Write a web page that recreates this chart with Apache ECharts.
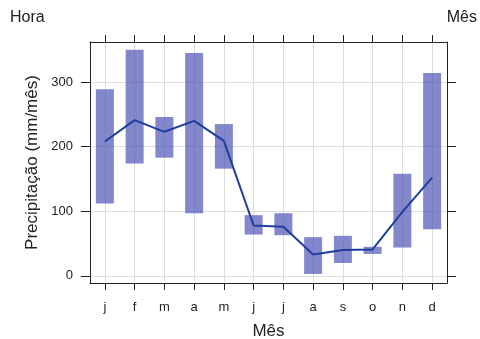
<!DOCTYPE html>
<html>
<head>
<meta charset="utf-8">
<script src="https://cdn.jsdelivr.net/npm/echarts@6/dist/echarts.min.js"></script>
<style>
  html, body { margin: 0; padding: 0; background: #fff; }
  #chart { width: 480px; height: 339px; }
</style>
</head>
<body>
<div id="chart"></div>
<script>
// meses e valores
const months = ['j', 'f', 'm', 'a', 'm', 'j', 'j', 'a', 's', 'o', 'n', 'd']
const lowVals = [112, 174, 183, 97, 166, 64, 63, 3, 20, 34, 44, 72]
const highVals = [289, 350, 246, 345, 235, 94, 97, 60, 62, 45, 158, 314]
const meanVals = [208, 241, 223, 240, 209, 78, 76, 33, 40, 41, 99, 152]
const yTicks = [0, 100, 200, 300]
const monthIdx = months.map((m, i) => i)

const font = 'Liberation Sans, Arial, sans-serif'
const frameColor = '#222'

const chart = echarts.init(document.getElementById('chart'))

chart.setOption({
  animation: false,
  textStyle: { fontFamily: font },
  grid: { left: 90, right: 33, top: 42, bottom: 56, outerBoundsMode: 'none' },
  graphic: [
    { type: 'text', left: 10, top: 10, style: { text: 'Hora', font: '16px ' + font, fill: '#222' } },
    { type: 'text', right: 3, top: 10, style: { text: 'Mês', font: '16px ' + font, fill: '#222' } }
  ],
  xAxis: [
    {
      type: 'category',
      data: months,
      boundaryGap: true,
      name: 'Mês',
      nameLocation: 'middle',
      nameGap: 40,
      nameTextStyle: { fontSize: 17, color: '#222', fontFamily: font },
      axisLine: { show: true, onZero: false, lineStyle: { color: frameColor, width: 1 } },
      axisTick: { show: true, alignWithLabel: true, interval: 0, length: 7, lineStyle: { color: frameColor } },
      axisLabel: { color: '#222', fontSize: 13, margin: 18, interval: 0, fontFamily: font },
      splitLine: { show: false }
    },
    {
      type: 'category',
      data: months,
      position: 'top',
      boundaryGap: true,
      axisLine: { show: true, onZero: false, lineStyle: { color: frameColor, width: 1 } },
      axisTick: { show: true, alignWithLabel: true, interval: 0, length: 7, lineStyle: { color: frameColor } },
      axisLabel: { show: false },
      splitLine: { show: false }
    },
    {
      // eixo auxiliar só para as linhas verticais da grade
      type: 'value',
      min: -0.5,
      max: 11.5,
      position: 'bottom',
      axisLine: { show: false },
      axisTick: { show: false, customValues: monthIdx },
      axisLabel: { show: false, customValues: monthIdx },
      splitLine: { show: true, lineStyle: { color: '#ddd' } }
    }
  ],
  yAxis: [
    {
      type: 'value',
      min: -11,
      max: 362,
      name: 'Precipitação (mm/mês)',
      nameLocation: 'middle',
      nameGap: 47,
      nameTextStyle: { fontSize: 17, color: '#222', fontFamily: font },
      axisLine: { show: true, onZero: false, lineStyle: { color: frameColor, width: 1 } },
      axisTick: { show: true, length: 9, customValues: yTicks, lineStyle: { color: frameColor } },
      axisLabel: { color: '#222', fontSize: 13, margin: 17, customValues: yTicks, fontFamily: font },
      splitLine: { show: true, lineStyle: { color: '#ddd' } }
    },
    {
      type: 'value',
      min: -11,
      max: 362,
      position: 'right',
      axisLine: { show: true, onZero: false, lineStyle: { color: frameColor, width: 1 } },
      axisTick: { show: true, length: 9, customValues: yTicks, lineStyle: { color: frameColor } },
      axisLabel: { show: false, customValues: yTicks },
      splitLine: { show: false }
    }
  ],
  series: [
    {
      type: 'bar',
      stack: 'range',
      data: lowVals,
      barWidth: 18,
      itemStyle: { color: 'transparent' },
      silent: true
    },
    {
      type: 'bar',
      stack: 'range',
      data: highVals.map((h, i) => h - lowVals[i]),
      barWidth: 18,
      itemStyle: { color: 'rgba(72, 78, 180, 0.68)' }
    },
    {
      type: 'line',
      data: meanVals,
      symbol: 'none',
      lineStyle: { color: '#1f3d9c', width: 2 },
      z: 5
    }
  ]
})
</script>
</body>
</html>
